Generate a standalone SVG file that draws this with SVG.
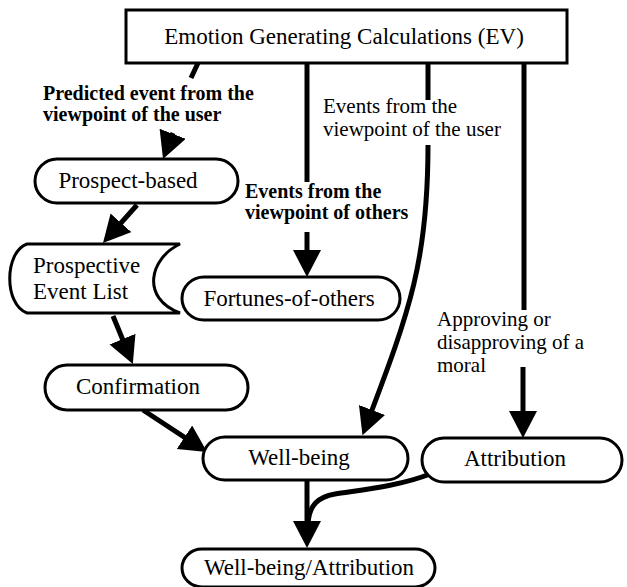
<svg xmlns="http://www.w3.org/2000/svg" width="627" height="587" viewBox="0 0 627 587">
<style>
.node{fill:#fff;stroke:#000;stroke-width:3}
.nt{font-family:"Liberation Serif","Times New Roman",serif;font-size:23px;fill:#000;text-anchor:middle}
.ns{font-family:"Liberation Serif","Times New Roman",serif;font-size:23px;fill:#000}
.lb{font-family:"Liberation Serif","Times New Roman",serif;font-size:20px;font-weight:bold;fill:#000}
.lr{font-family:"Liberation Serif","Times New Roman",serif;font-size:21px;fill:#000}
.c{fill:none;stroke:#000;stroke-width:5}
</style>
<defs>
<marker id="ah" markerUnits="userSpaceOnUse" markerWidth="32" markerHeight="32" refX="12" refY="14" orient="auto">
<path d="M0,0 L27,14 L0,28 z" fill="#000"/>
</marker>
</defs>
<rect width="627" height="587" fill="#fff"/>
<g id="connectors">
<path class="c" d="M198,63 L191,78"/>
<path class="c" d="M173,133 L168.4,145" marker-end="url(#ah)"/>
<path class="c" d="M307,63 L307,182"/>
<path class="c" d="M307,232 L307,262" marker-end="url(#ah)"/>
<path class="c" d="M428,63 L428,100"/>
<path class="c" d="M428,145 C428,260 410,310 367.8,421.2" marker-end="url(#ah)"/>
<path class="c" d="M524,63 L524,310"/>
<path class="c" d="M523,367 L523,423" marker-end="url(#ah)"/>
<path class="c" d="M137,205 L113,231.8" marker-end="url(#ah)"/>
<path class="c" d="M113,316 L127.1,350.2" marker-end="url(#ah)"/>
<path class="c" d="M143,410 L194.5,443.8" marker-end="url(#ah)"/>
<path class="c" d="M307,480 L307,533" marker-end="url(#ah)"/>
<path class="c" d="M430,474 C400,486 360,490 335,494 C318,497 309,505 308,524"/>
</g>
<g id="ev">
<rect class="node" x="126" y="10" width="441" height="53"/>
<text class="nt" x="344" y="44">Emotion Generating Calculations (EV)</text>
</g>
<g id="labels">
<text class="lb" x="43" y="100">Predicted event from the</text>
<text class="lb" x="43" y="121">viewpoint of the user</text>
<text class="lb" x="245" y="198">Events from the</text>
<text class="lb" x="245" y="219">viewpoint of others</text>
<text class="lr" x="323" y="113">Events from the</text>
<text class="lr" x="323" y="136">viewpoint of the user</text>
<text class="lr" x="437" y="326">Approving or</text>
<text class="lr" x="437" y="349">disapproving of a</text>
<text class="lr" x="437" y="372">moral</text>
</g>
<g id="prospect-based">
<rect class="node" x="35" y="159" width="203" height="44" rx="22" ry="22"/>
<text class="nt" x="128" y="188">Prospect-based</text>
</g>
<g id="prospective-event-list">
<path class="node" d="M27,244 L180,244 C150,258 140,298 180,313 L27,313 C4,305 4,252 27,244 z"/>
<text class="ns" x="33" y="273">Prospective</text>
<text class="ns" x="33" y="299">Event List</text>
</g>
<g id="fortunes-of-others">
<rect class="node" x="182" y="277" width="218" height="43" rx="22" ry="21.5"/>
<text class="nt" x="289" y="306">Fortunes-of-others</text>
</g>
<g id="confirmation">
<rect class="node" x="45" y="365" width="203" height="45" rx="22" ry="22.5"/>
<text class="nt" x="138" y="394">Confirmation</text>
</g>
<g id="well-being">
<rect class="node" x="203" y="437" width="205" height="43" rx="22" ry="21.5"/>
<text class="nt" x="299" y="465">Well-being</text>
</g>
<g id="attribution">
<rect class="node" x="422" y="438" width="200" height="44" rx="22" ry="22"/>
<text class="nt" x="515" y="466">Attribution</text>
</g>
<g id="well-being-attribution">
<rect class="node" x="182" y="549" width="253" height="38" rx="20" ry="19"/>
<text class="nt" x="309" y="575">Well-being/Attribution</text>
</g>
</svg>
